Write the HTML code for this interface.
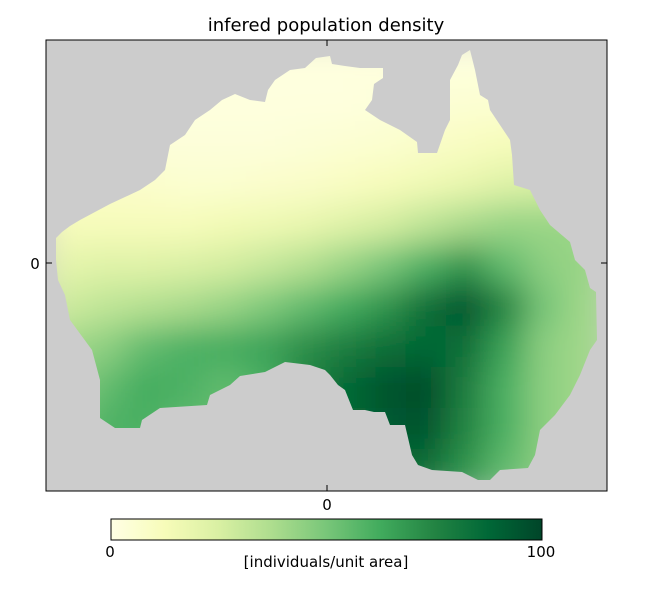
<!DOCTYPE html>
<html><head><meta charset="utf-8"><style>
body{margin:0;background:#fff;}
svg text{font-family:"DejaVu Sans","Liberation Sans",sans-serif;}
</style></head><body>
<svg id="chart" width="652" height="611" viewBox="0 0 652 611" xmlns="http://www.w3.org/2000/svg">
<defs>
<clipPath id="landClip"><polygon id="landPoly" points="56,238 62,232 70,226 80,220 95,212 110,204 125,197 140,190 155,180 165,170 170,145 185,135 195,120 210,110 222,100 235,94 250,100 265,102 268,90 275,80 290,70 305,68 316,58 330,56 332,64 345,66 360,68 383,68 383,78 374,84 372,100 365,110 380,120 400,130 417,142 418,153 437,153 445,130 450,120 450,80 458,65 462,55 470,50 475,70 480,95 488,100 490,110 500,125 510,140 512,155 514,185 530,190 540,210 550,225 570,242 575,260 585,270 590,288 596,292 597,340 590,350 580,375 570,395 555,415 540,430 535,455 528,468 500,470 490,480 478,480 462,472 432,470 418,465 412,455 405,425 390,425 385,412 374,412 365,410 353,410 345,390 338,385 330,375 325,370 310,365 285,362 265,372 240,376 230,385 210,395 207,405 160,408 142,420 140,428 115,428 100,418 100,380 92,350 70,320 65,295 58,280 56,260"/></clipPath>
<filter id="blur" x="-10%" y="-10%" width="120%" height="120%"><feGaussianBlur stdDeviation="16"/></filter>
<linearGradient id="cbGrad" x1="0" x2="1" y1="0" y2="0">
<stop offset="0" stop-color="#ffffe5"/><stop offset="0.125" stop-color="#f7fcb9"/><stop offset="0.25" stop-color="#d9f0a3"/><stop offset="0.375" stop-color="#addd8e"/><stop offset="0.5" stop-color="#78c679"/><stop offset="0.625" stop-color="#41ab5d"/><stop offset="0.75" stop-color="#238443"/><stop offset="0.875" stop-color="#006837"/><stop offset="1" stop-color="#004529"/>
</linearGradient>
</defs>
<text x="326" y="31" text-anchor="middle" font-size="18" fill="#000">infered population density</text>
<rect x="46" y="40" width="561" height="451" fill="#cccccc"/>
<g clip-path="url(#landClip)">
<g id="cells" filter="url(#blur)"></g>
</g>
<rect x="46" y="40" width="561" height="451" fill="none" stroke="#000" stroke-width="1"/>
<g stroke="#000" stroke-width="1">
<line x1="46" y1="263" x2="52" y2="263"/><line x1="601" y1="263" x2="607" y2="263"/>
<line x1="327" y1="40" x2="327" y2="46"/><line x1="327" y1="485" x2="327" y2="491"/>
</g>
<text x="35" y="269" text-anchor="middle" font-size="15">0</text>
<text x="327" y="510" text-anchor="middle" font-size="15">0</text>
<rect x="111" y="519" width="431" height="21" fill="url(#cbGrad)" stroke="#000" stroke-width="1"/>
<text x="110" y="557" text-anchor="middle" font-size="15">0</text>
<text x="541" y="557" text-anchor="middle" font-size="15">100</text>
<text x="326" y="567" text-anchor="middle" font-size="15">[individuals/unit area]</text>
</svg>
<script>
const gridX0 = [46];
const gridY0 = [40];
const rowsDensity = [
[2,2,2,2,2,2,2,2,2,2,2,2,2,2],
[2,2,2,2,2,2,2,2,3,4,5,5,4,4],
[3,3,3,3,3,3,4,5,6,8,10,12,12,12],
[8,8,7,6,6,7,8,10,12,15,18,22,25,25],
[12,12,12,12,14,16,18,22,26,32,38,42,42,42],
[20,22,22,24,26,30,35,42,50,60,70,55,45,42],
[28,32,35,38,42,48,55,62,70,85,95,75,50,40],
[40,45,55,60,62,65,72,78,85,88,85,65,45,40],
[45,55,62,60,55,60,75,88,95,98,78,60,45,40],
[50,60,60,55,55,60,75,85,92,95,75,60,45,40],
[50,55,55,55,55,60,70,80,85,85,70,55,45,40]
];
const stops = ["#ffffe5","#f7fcb9","#d9f0a3","#addd8e","#78c679","#41ab5d","#238443","#006837","#004529"];
function hex(c){return [parseInt(c.substr(1,2),16),parseInt(c.substr(3,2),16),parseInt(c.substr(5,2),16)];}
function color(v){
  let t=Math.max(0,Math.min(1,v/100))*(stops.length-1);
  let i=Math.min(stops.length-2,Math.floor(t)),f=t-i;
  let a=hex(stops[i]),b=hex(stops[i+1]);
  return "rgb("+a.map((x,k)=>Math.round(x+(b[k]-x)*f)).join(",")+")";
}
const cols=rowsDensity[0].length, rows=rowsDensity.length;
const cw=561/cols, ch=451/rows;
function xScale(c){return gridX0[0]+c*cw;}
function yScale(r){return gridY0[0]+r*ch;}
const g=document.getElementById('cells');
const NS="http://www.w3.org/2000/svg";
rowsDensity.forEach((row,r)=>row.forEach((v,c)=>{
  const el=document.createElementNS(NS,'rect');
  el.setAttribute('x',xScale(c)-1);
  el.setAttribute('y',yScale(r)-1);
  el.setAttribute('width',cw+2);
  el.setAttribute('height',ch+2);
  el.setAttribute('fill',color(v));
  
  
  g.appendChild(el);
}));
</script>
</body></html>
